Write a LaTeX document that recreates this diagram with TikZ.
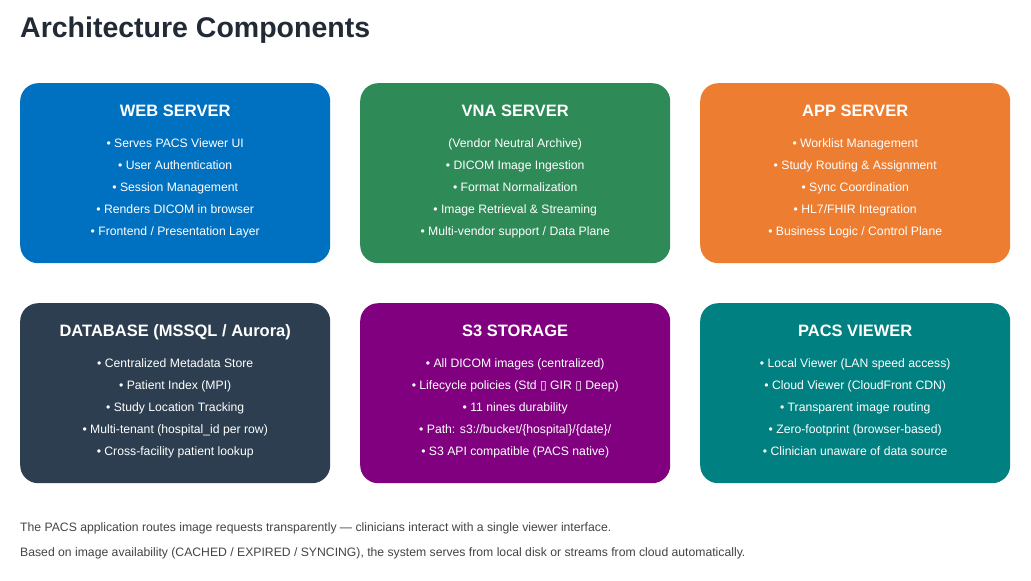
\documentclass[tikz,border=0pt]{standalone}
\usepackage{fontspec}
\setmainfont{Liberation Sans}
\newfontfamily\glyphfont{DejaVu Sans}
\usetikzlibrary{positioning}
\definecolor{webblue}{HTML}{0070C0}
\definecolor{vnagreen}{HTML}{2E8B57}
\definecolor{apporange}{HTML}{ED7D31}
\definecolor{dbslate}{HTML}{2C3E50}
\definecolor{s3purple}{HTML}{800080}
\definecolor{viewteal}{HTML}{008080}
\definecolor{titlegray}{HTML}{222A35}
\definecolor{notegray}{HTML}{444444}
\newcommand{\nog}{{\glyphfont\char"25AF}}
\tikzset{
  comp/.style={rounded corners=18pt, minimum width=310pt, minimum height=180pt, draw=none, anchor=north west},
  head/.style={text=white, font=\bfseries\fontsize{16.5}{19}\selectfont, below=18pt of #1.north},
  items/.style={text=white, font=\fontsize{12.2}{22}\selectfont, align=center, below=52pt of #1.north},
  note/.style={text=notegray, font=\fontsize{12.2}{14}\selectfont, anchor=west}
}
\begin{document}
\begin{tikzpicture}[x=1pt,y=-1pt]
  \useasboundingbox[fill=white] (0,0) rectangle (1031,581);
  \node[anchor=west, text=titlegray, font=\bfseries\fontsize{28.5}{32}\selectfont, inner sep=0pt] (title) at (20,30) {Architecture Components};

  % top row
  \node[comp, fill=webblue] (web) at (20,83) {};
  \node[head=web] (webh) {WEB SERVER};
  \node[items=web] (webi) {• Serves PACS Viewer UI\\• User Authentication\\• Session Management\\• Renders DICOM in browser\\• Frontend / Presentation Layer};

  \node[comp, fill=vnagreen] (vna) at (360,83) {};
  \node[head=vna] (vnah) {VNA SERVER};
  \node[items=vna] (vnai) {(Vendor Neutral Archive)\\• DICOM Image Ingestion\\• Format Normalization\\• Image Retrieval \& Streaming\\• Multi-vendor support / Data Plane};

  \node[comp, fill=apporange] (app) at (700,83) {};
  \node[head=app] (apph) {APP SERVER};
  \node[items=app] (appi) {• Worklist Management\\• Study Routing \& Assignment\\• Sync Coordination\\• HL7/FHIR Integration\\• Business Logic / Control Plane};

  % bottom row
  \node[comp, fill=dbslate] (db) at (20,303) {};
  \node[head=db] (dbh) {DATABASE (MSSQL / Aurora)};
  \node[items=db] (dbi) {• Centralized Metadata Store\\• Patient Index (MPI)\\• Study Location Tracking\\• Multi-tenant (hospital\_id per row)\\• Cross-facility patient lookup};

  \node[comp, fill=s3purple] (s3) at (360,303) {};
  \node[head=s3] (s3h) {S3 STORAGE};
  \node[items=s3] (s3i) {• All DICOM images (centralized)\\• Lifecycle policies (Std \nog{} GIR \nog{} Deep)\\• 11 nines durability\\• Path: s3://bucket/\{hospital\}/\{date\}/\\• S3 API compatible (PACS native)};

  \node[comp, fill=viewteal] (view) at (700,303) {};
  \node[head=view] (viewh) {PACS VIEWER};
  \node[items=view] (viewi) {• Local Viewer (LAN speed access)\\• Cloud Viewer (CloudFront CDN)\\• Transparent image routing\\• Zero-footprint (browser-based)\\• Clinician unaware of data source};

  % footnotes
  \node[note, inner sep=0pt] (note1) at (20,528) {The PACS application routes image requests transparently — clinicians interact with a single viewer interface.};
  \node[note, inner sep=0pt] (note2) at (20,553) {Based on image availability (CACHED / EXPIRED / SYNCING), the system serves from local disk or streams from cloud automatically.};
\end{tikzpicture}
\end{document}
